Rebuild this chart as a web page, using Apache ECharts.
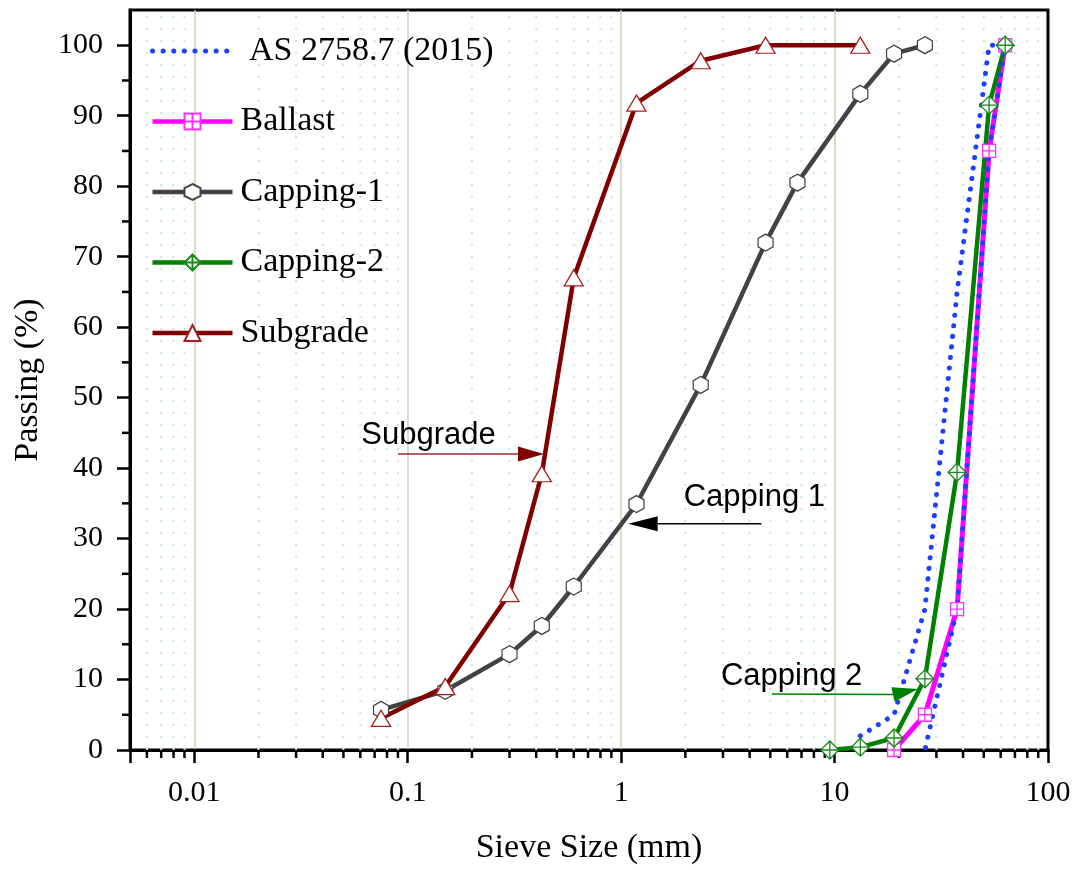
<!DOCTYPE html>
<html><head><meta charset="utf-8">
<script src="https://cdn.jsdelivr.net/npm/echarts@6/dist/echarts.min.js"></script>
<style>html,body{margin:0;padding:0;background:#fff}#main{width:1083px;height:870px}</style>
</head><body><div id="main"></div>
<script>
// ---- data (sieve size in mm, percent passing) ----
const asSizes       = [13.2, 19, 26.5, 37.5, 53, 63, 53, 37.5, 26.5];
const asPass        = [2, 5, 20, 65, 100, 100, 85, 20, 0];
const ballastSizes  = [19, 26.5, 37.5, 53, 63];
const ballastPass   = [0, 5, 20, 85, 100];
const capping1Sizes = [0.075, 0.15, 0.3, 0.425, 0.6, 1.18, 2.36, 4.75, 6.7, 13.2, 19, 26.5];
const capping1Pass  = [5.7, 8.4, 13.6, 17.6, 23.2, 34.9, 51.8, 72.0, 80.5, 93.1, 98.8, 100];
const capping2Sizes = [9.5, 13.2, 19, 26.5, 37.5, 53, 63];
const capping2Pass  = [0, 0.4, 1.7, 10.1, 39.4, 91.5, 100];
const subgradeSizes = [0.075, 0.15, 0.3, 0.425, 0.6, 1.18, 2.36, 4.75, 13.2];
const subgradePass  = [4.5, 9.0, 22.2, 39.2, 67.0, 91.8, 97.8, 100, 100];

// ---- axis decoration values ----
const yMajorTicks = [0, 10, 20, 30, 40, 50, 60, 70, 80, 90, 100];
const yMinorTicks = [5, 15, 25, 35, 45, 55, 65, 75, 85, 95];
const xMinorTicks = [0.006, 0.007, 0.008, 0.009,
  0.02, 0.03, 0.04, 0.05, 0.06, 0.07, 0.08, 0.09,
  0.2, 0.3, 0.4, 0.5, 0.6, 0.7, 0.8, 0.9,
  2, 3, 4, 5, 6, 7, 8, 9,
  20, 30, 40, 50, 60, 70, 80, 90];

// ---- annotations (in data space) ----
const annotations = [
  { text: 'Subgrade',  at: [0.1252, 44.6], tail: [0.0901, 42.0], base: [0.3287, 42.0], tip: [0.4351, 42.0], line: '#a02828', head: '#800000' },
  { text: 'Capping 1', at: [4.21, 35.8],   tail: [4.54, 32.1],   base: [1.484, 32.1],  tip: [1.081, 32.1],  line: '#000000', head: '#000000' },
  { text: 'Capping 2', at: [6.29, 10.5],   tail: [5.09, 7.95],   base: [18.78, 7.88],  tip: [24.6, 8.66],   line: '#008000', head: '#008000' }
];

function pairs(xs, ys) { return xs.map((x, i) => [x, ys[i]]); }

const SERIF = 'Liberation Serif';
const SANS = 'Liberation Sans';
const hexPath = 'path://M0,-10L8.66,-5L8.66,5L0,10L-8.66,5L-8.66,-5Z';
const sqPath  = 'path://M0,0H10V10H0Z M5,0V10 M0,5H10';
const diaPath = 'path://M0,-10L10,0L0,10L-10,0Z M0,-10V10 M-10,0H10';
const asDash = { color: '#1f3fff', width: 5, type: [0.1, 10.5], cap: 'round' };

const chart = echarts.init(document.getElementById('main'), null, { renderer: 'canvas' });

const decoData = xMinorTicks.map(v => [v, 0, 0]).concat(yMinorTicks.map(v => [0.005, v, 1]));

const option = {
  animation: false,
  backgroundColor: '#fff',
  grid: { left: 130, right: 35, top: 10, bottom: 120, show: true, borderColor: '#000', borderWidth: 3, backgroundColor: 'transparent' },
  legend: {
    orient: 'vertical', left: 150, top: 33, padding: 0,
    itemWidth: 80, itemHeight: 20, itemGap: 34.5,
    lineStyle: { width: 4.5 },
    data: [
      { name: 'AS 2758.7 (2015)', itemStyle: { opacity: 0 }, lineStyle: asDash },
      'Ballast', 'Capping-1', 'Capping-2', 'Subgrade'
    ],
    textStyle: { fontFamily: SERIF, fontSize: 34, color: '#000', lineHeight: 36, padding: [0, 0, 0, 3] },
    formatter: n => (n === 'AS 2758.7 (2015)' ? ' ' + n : n)
  },
  xAxis: {
    type: 'log', logBase: 10, min: 0.005, max: 100,
    name: 'Sieve Size (mm)', nameLocation: 'middle', nameGap: 81,
    nameTextStyle: { fontFamily: SERIF, fontSize: 34, color: '#000' },
    axisLine: { show: true, lineStyle: { color: '#000', width: 3 } },
    axisTick: { show: true, length: 13, lineStyle: { color: '#000', width: 2.5 } },
    axisLabel: {
      margin: 28, fontFamily: SERIF, fontSize: 30, color: '#000',
      formatter: function (v) {
        const l = Math.log10(v), e = Math.round(l);
        if (Math.abs(l - e) > 1e-6) return '';
        return e < 0 ? Math.pow(10, e).toFixed(-e) : String(Math.pow(10, e));
      }
    },
    splitLine: { show: true, showMinLine: false, showMaxLine: false, lineStyle: { color: '#cfcfb4', width: 1.5 } },
    minorTick: { show: false }, minorSplitLine: { show: false }
  },
  yAxis: {
    type: 'value', min: 0, max: 105, interval: 10,
    name: 'Passing (%)', nameLocation: 'middle', nameGap: 85,
    nameTextStyle: { fontFamily: SERIF, fontSize: 34, color: '#000' },
    axisLine: { show: true, lineStyle: { color: '#000', width: 3 } },
    axisTick: { show: true, length: 13, customValues: yMajorTicks, lineStyle: { color: '#000', width: 2.5 } },
    axisLabel: { customValues: yMajorTicks, margin: 27, fontFamily: SERIF, fontSize: 30, color: '#000' },
    splitLine: { show: false }
  },
  series: [
    {
      type: 'custom', name: '_deco', coordinateSystem: 'cartesian2d', silent: true, clip: false, z: 1,
      encode: { x: 0, y: 1 }, data: decoData,
      renderItem: function (params, api) {
        const kind = api.value(2);
        if (kind === 0) {
          const v = api.value(0);
          const p0 = api.coord([v, 0]), p1 = api.coord([v, 105]);
          return { type: 'group', children: [
            { type: 'line', shape: { x1: p0[0], y1: p0[1], x2: p1[0], y2: p1[1] }, style: { stroke: '#c4e5ef', lineWidth: 2, lineDash: [2, 10] } },
            { type: 'line', shape: { x1: p0[0], y1: p0[1], x2: p0[0], y2: p0[1] + 8 }, style: { stroke: '#000', lineWidth: 2.5 } }
          ] };
        }
        const p = api.coord([0.005, api.value(1)]);
        return { type: 'line', shape: { x1: p[0] - 8, y1: p[1], x2: p[0], y2: p[1] }, style: { stroke: '#000', lineWidth: 2.5 } };
      }
    },
    {
      name: 'Capping-1', type: 'line', data: pairs(capping1Sizes, capping1Pass),
      symbol: hexPath, symbolSize: [15, 17], showAllSymbol: true,
      lineStyle: { color: '#424242', width: 4.5 },
      itemStyle: { color: '#fff', borderColor: '#444', borderWidth: 1.3 }
    },
    {
      name: 'Subgrade', type: 'line', data: pairs(subgradeSizes, subgradePass),
      symbol: 'triangle', symbolSize: [19, 16], showAllSymbol: true,
      lineStyle: { color: '#800000', width: 4.5 },
      itemStyle: { color: '#fff', borderColor: '#a52020', borderWidth: 1.3 }
    },
    {
      name: 'Ballast', type: 'line', data: pairs(ballastSizes, ballastPass),
      symbol: sqPath, symbolSize: [13, 13], showAllSymbol: true,
      lineStyle: { color: '#ff00ff', width: 5 },
      itemStyle: { color: '#fff', borderColor: '#ff33ff', borderWidth: 1.3 }
    },
    {
      name: 'Capping-2', type: 'line', data: pairs(capping2Sizes, capping2Pass),
      symbol: diaPath, symbolSize: [18, 18], showAllSymbol: true,
      lineStyle: { color: '#008000', width: 4.5 },
      itemStyle: { color: '#fff', borderColor: '#1a8a1a', borderWidth: 1.3 }
    },
    {
      name: 'AS 2758.7 (2015)', type: 'line', data: pairs(asSizes, asPass),
      symbol: 'none',
      lineStyle: asDash,
      itemStyle: { color: '#1f3fff' }
    }
  ]
};
chart.setOption(option);

// annotations positioned through the chart's own scales
function px(p) { return chart.convertToPixel({ xAxisIndex: 0, yAxisIndex: 0 }, p); }
const graphics = [];
annotations.forEach(a => {
  const t = px(a.at), tl = px(a.tail), b = px(a.base), tp = px(a.tip);
  graphics.push({ type: 'text', x: t[0], y: t[1], z: 10,
    style: { text: a.text, fontFamily: SANS, fontSize: 31, fill: '#000', align: 'center', verticalAlign: 'middle' } });
  graphics.push({ type: 'line', z: 10, shape: { x1: tl[0], y1: tl[1], x2: b[0], y2: b[1] }, style: { stroke: a.line, lineWidth: 1.6 } });
  const dx = tp[0] - b[0], dy = tp[1] - b[1], L = Math.hypot(dx, dy);
  const nx = -dy / L, ny = dx / L, w = 7.5;
  graphics.push({ type: 'polygon', z: 10,
    shape: { points: [[tp[0], tp[1]], [b[0] + nx * w, b[1] + ny * w], [b[0] - nx * w, b[1] - ny * w]] },
    style: { fill: a.head } });
});
chart.setOption({ graphic: graphics });
</script>
</body></html>
